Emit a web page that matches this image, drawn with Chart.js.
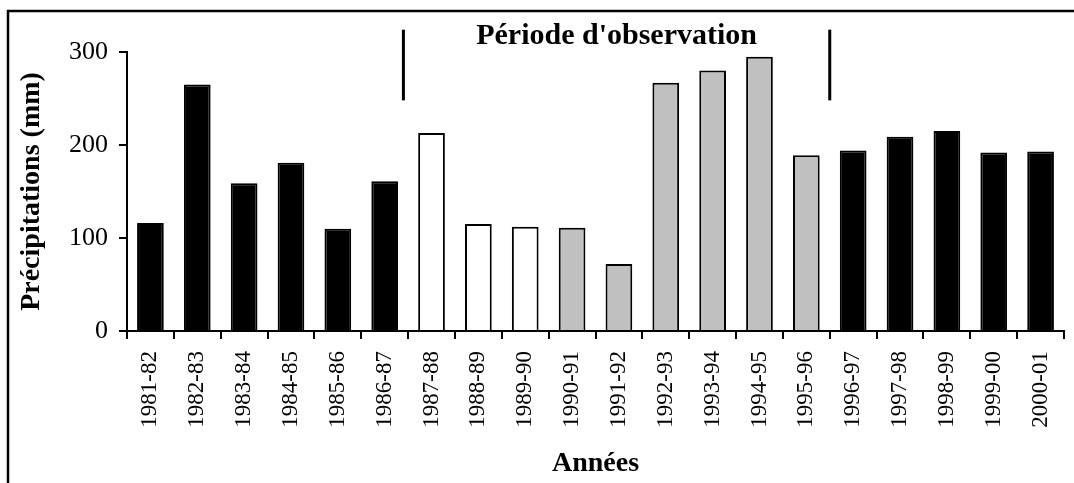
<!DOCTYPE html>
<html>
<head>
<meta charset="utf-8">
<script src="https://cdn.jsdelivr.net/npm/chart.js@4"></script>
<style>
    body { margin: 0; background: #fff; }
    canvas { display: block; }
</style>
</head>
<body>
<canvas id="rainChart" width="1074" height="483"></canvas>
<script>
// Hydrological years
const years = ['1981-82', '1982-83', '1983-84', '1984-85', '1985-86', '1986-87',
    '1987-88', '1988-89', '1989-90', '1990-91', '1991-92', '1992-93', '1993-94',
    '1994-95', '1995-96', '1996-97', '1997-98', '1998-99', '1999-00', '2000-01'];

// Annual rainfall (mm)
const rainfall = [116, 265, 159, 181, 110, 161, 213, 115, 112, 111, 72, 267,
    280, 295, 189, 194, 209, 215, 192, 193];

// Bar kind: 'h' outside the observation period, 'a' and 'b' inside it
const barKind = ['h', 'h', 'h', 'h', 'h', 'h', 'a', 'a', 'a', 'b', 'b', 'b',
    'b', 'b', 'b', 'h', 'h', 'h', 'h', 'h'];

const yTicks = [0, 100, 200, 300];

// Observation period limits, in category index units
const periodBounds = [5.4, 14.5];
const periodLabel = "Période d'observation";

const kindColors = { h: '#000000', a: '#ffffff', b: '#c0c0c0' };
const serif = '"Liberation Serif", "Times New Roman", serif';

// Draws the frame, the two period markers and the period label
const periodPlugin = {
    id: 'periodPlugin',
    beforeDraw(chart) {
        const ctx = chart.ctx;
        ctx.save();
        ctx.strokeStyle = '#000';
        ctx.lineWidth = 2.5;
        ctx.strokeRect(8, 11, 3000, 3000);
        ctx.restore();
    },
    afterDraw(chart) {
        const ctx = chart.ctx;
        const x = chart.scales.x;
        const y = chart.scales.y;
        const xs = periodBounds.map(v => x.getPixelForValue(v));
        ctx.save();
        ctx.strokeStyle = '#000';
        ctx.lineWidth = 3;
        xs.forEach(px => {
            ctx.beginPath();
            ctx.moveTo(px, y.getPixelForValue(324));
            ctx.lineTo(px, y.getPixelForValue(248));
            ctx.stroke();
        });
        ctx.fillStyle = '#000';
        ctx.font = 'bold 30px ' + serif;
        ctx.textAlign = 'center';
        ctx.textBaseline = 'alphabetic';
        ctx.fillText(periodLabel, (xs[0] + xs[1]) / 2, y.getPixelForValue(309));
        ctx.restore();
    }
};

const ctx = document.getElementById('rainChart').getContext('2d');

new Chart(ctx, {
    type: 'bar',
    data: {
        labels: years,
        datasets: [{
            data: rainfall,
            backgroundColor: barKind.map(k => kindColors[k]),
            borderColor: '#000',
            borderWidth: 2,
            barPercentage: 0.57,
            categoryPercentage: 1.0
        }]
    },
    options: {
        responsive: false,
        animation: false,
        layout: {
            padding: { top: 52, left: 10, right: 10, bottom: 0 }
        },
        plugins: {
            legend: { display: false },
            tooltip: { enabled: false }
        },
        scales: {
            x: {
                afterFit: scale => {
                    scale.height = 152;
                    scale.paddingLeft = 0;
                    scale.paddingRight = 0;
                },
                grid: {
                    offset: true,
                    drawOnChartArea: false,
                    drawTicks: true,
                    tickLength: 8,
                    color: '#000',
                    lineWidth: 2
                },
                border: { display: true, color: '#000', width: 2 },
                ticks: {
                    minRotation: 90,
                    maxRotation: 90,
                    padding: 12,
                    color: '#000',
                    font: { family: serif, size: 23 }
                },
                title: {
                    display: true,
                    text: 'Années',
                    color: '#000',
                    padding: { top: 0, bottom: 2 },
                    font: { family: serif, size: 28, weight: 'bold' }
                }
            },
            y: {
                min: 0,
                max: 300,
                afterFit: scale => { scale.width = 117; },
                afterBuildTicks: scale => {
                    scale.ticks = yTicks.map(v => ({ value: v }));
                },
                grid: {
                    drawOnChartArea: false,
                    drawTicks: true,
                    tickLength: 8,
                    color: '#000',
                    lineWidth: 2
                },
                border: { display: true, color: '#000', width: 2 },
                ticks: {
                    padding: 11,
                    color: '#000',
                    font: { family: serif, size: 26 }
                },
                title: {
                    display: true,
                    text: 'Précipitations (mm)',
                    color: '#000',
                    padding: { top: 5, bottom: 0 },
                    font: { family: serif, size: 28, weight: 'bold' }
                }
            }
        }
    },
    plugins: [periodPlugin]
});
</script>
</body>
</html>
